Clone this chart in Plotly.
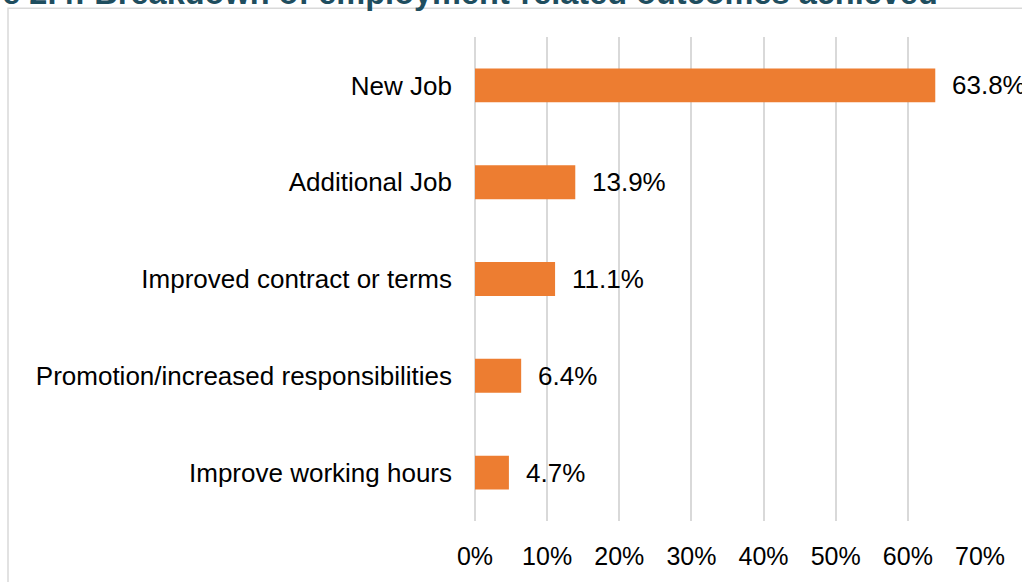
import plotly.graph_objects as go

# Employment-related outcomes, share of all outcomes achieved
outcomes = [
    "New Job",
    "Additional Job",
    "Improved contract or terms",
    "Promotion/increased responsibilities",
    "Improve working hours",
]
shares = [63.8, 13.9, 11.1, 6.4, 4.7]
tick_values = [0, 10, 20, 30, 40, 50, 60, 70]
tick_text = [f"{v}%" for v in tick_values]
title_text = "Figure 2.4: Breakdown of employment-related outcomes achieved"

W, H = 1022, 582
M_L, M_R, M_T, M_B = 475, 42, 37, 57
PW, PH = W - M_L - M_R, H - M_T - M_B


def px_x(px):
    return (px - M_L) / PW


def px_y(py):
    return (H - M_B - py) / PH


FONT = "Arial, Liberation Sans, sans-serif"
ORANGE = "#ED7D31"
GRID = "#D9D9D9"

fig = go.Figure(
    go.Bar(
        x=shares,
        y=outcomes,
        orientation="h",
        width=0.35,
        marker=dict(color=ORANGE, line=dict(width=0)),
        hoverinfo="skip",
    )
)

# value labels to the right of each bar
for name, val in zip(outcomes, shares):
    fig.add_annotation(
        x=val, y=name, xref="x", yref="y",
        text=f"{val:.1f}%", showarrow=False,
        xanchor="left", yanchor="middle", xshift=15,
        font=dict(family=FONT, size=26, color="#000000"),
    )

# chart title (partly above and left of the page edge)
fig.add_annotation(
    x=px_x(-81), y=px_y(13), xref="paper", yref="paper",
    text=f"<b>{title_text}</b>", showarrow=False,
    xanchor="left", yanchor="bottom",
    font=dict(family=FONT, size=32.5, color="#1F4E5F"),
)

# outer chart frame
fig.add_shape(
    type="rect", xref="paper", yref="paper",
    x0=px_x(8), x1=px_x(1040), y0=px_y(600), y1=px_y(8),
    line=dict(color=GRID, width=1.5), fillcolor="rgba(0,0,0,0)", layer="below",
)

fig.update_layout(
    width=W, height=H,
    margin=dict(l=M_L, r=M_R, t=M_T, b=M_B, pad=0),
    paper_bgcolor="white", plot_bgcolor="white",
    showlegend=False,
    xaxis=dict(
        range=[0, 70], tickvals=tick_values, ticktext=tick_text,
        showgrid=True, gridcolor=GRID, gridwidth=1.5,
        zeroline=True, zerolinecolor=GRID, zerolinewidth=1.5,
        showline=False, ticks="",
        ticklabelstandoff=18,
        tickfont=dict(family=FONT, size=25, color="#000000"),
        fixedrange=True,
    ),
    yaxis=dict(
        categoryorder="array", categoryarray=outcomes, autorange="reversed",
        showgrid=False, zeroline=False, showline=False, ticks="",
        ticklabelstandoff=22,
        tickfont=dict(family=FONT, size=26, color="#000000"),
        fixedrange=True,
    ),
)

fig.write_html("out.html")
